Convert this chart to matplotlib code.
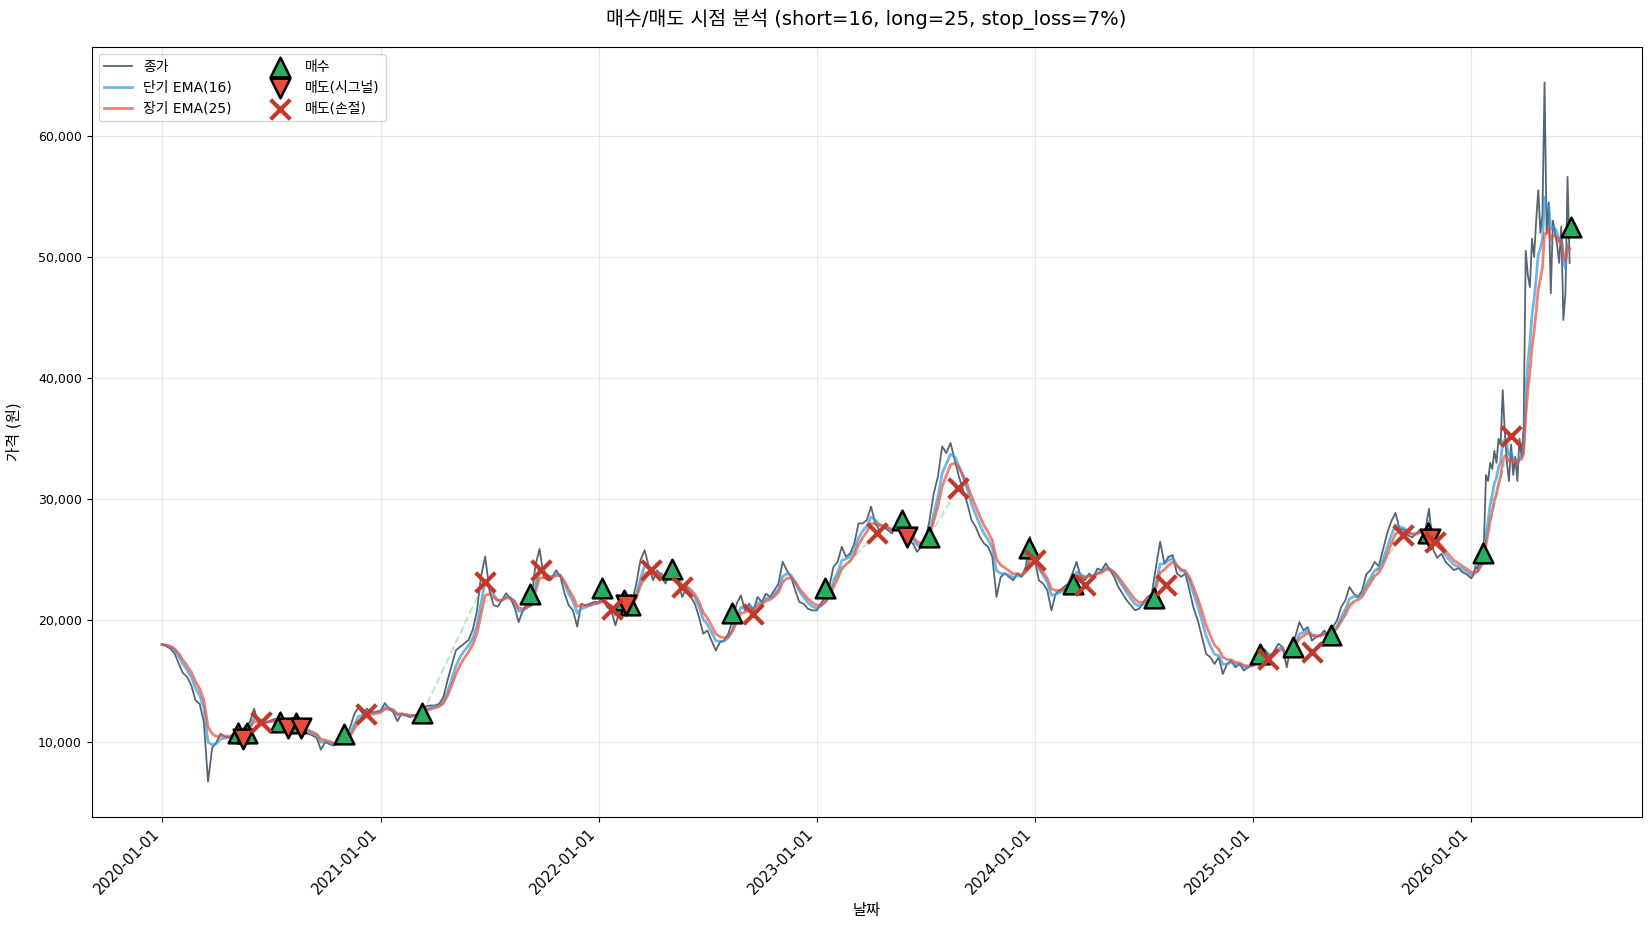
import matplotlib
matplotlib.use("Agg")
import matplotlib.pyplot as plt
import matplotlib.dates as mdates
from matplotlib.ticker import FuncFormatter
import numpy as np
import pandas as pd

plt.rcParams['font.family'] = ['DejaVu Sans', 'Noto Sans CJK KR']
plt.rcParams['axes.unicode_minus'] = False

# weekly closes, one list per year (2026 read every half week)
close_2020 = [18010, 17870, 17680, 17270, 16440, 15660, 15330, 14640, 13400, 13120,
              11600, 6700, 9480, 9945, 10640, 10410, 10360, 10580, 10770, 10910,
              11330, 11600, 12710, 11600, 11460, 11600, 11740, 11880, 11600, 11410,
              11190, 11330, 11130, 11050, 10770, 10640, 10500, 10300, 9340, 9945,
              9810, 9670, 9810, 10080, 10360, 11190, 12290, 12850, 12290, 12710,
              12430, 12430]
close_2021 = [12570, 13180, 12710, 12430, 11690, 12290, 12150, 12020, 12150, 12290,
              12710, 12930, 12980, 12980, 13120, 13670, 15060, 16300, 17540, 17820,
              18090, 18370, 19200, 20720, 23620, 25280, 22510, 21270, 21130, 21690,
              22240, 21820, 21130, 19860, 20830, 21380, 21520, 24500, 25900, 23590,
              23310, 23590, 24140, 23590, 22210, 21240, 20830, 19500, 21380, 21240,
              21380, 21520]
close_2022 = [21520, 21930, 21100, 20830, 19590, 20830, 21520, 21380, 21520, 23040,
              24970, 25800, 24420, 23310, 24140, 23590, 23040, 23870, 23310, 23040,
              21930, 22760, 21930, 21380, 20280, 18900, 19170, 18340, 17510, 18200,
              18340, 18900, 20000, 21380, 22070, 20830, 21380, 20830, 21930, 21520,
              22210, 21930, 22490, 23040, 24830, 24140, 23590, 22490, 21520, 21380,
              20970, 20830]
close_2023 = [20830, 21380, 21930, 22760, 24420, 24830, 26080, 25250, 25520, 26350,
              28010, 28010, 28290, 29390, 28010, 27460, 27730, 27460, 27180, 28010,
              27460, 27180, 26630, 26350, 25660, 26080, 26630, 28290, 30500, 31880,
              34360, 33810, 34640, 33260, 31880, 30770, 29670, 28290, 27730, 26910,
              26350, 26080, 25250, 21930, 23590, 23870, 23590, 23310, 23870, 23590,
              24420, 26910]
close_2024 = [24970, 23310, 23040, 22490, 20830, 22210, 22490, 22760, 23040, 23870,
              24830, 23590, 23310, 23870, 23590, 24280, 24140, 24700, 24140, 23590,
              22760, 22210, 21660, 21240, 20830, 20970, 21520, 21930, 22210, 24420,
              26490, 24700, 25250, 25390, 23870, 23590, 23870, 22490, 21000, 20000,
              18620, 17240, 16960, 16410, 16960, 15580, 16410, 16690, 16130, 16410,
              15860, 16130]
close_2025 = [16410, 17240, 17790, 17510, 16960, 17510, 18070, 17790, 16130, 18070,
              18620, 19860, 19170, 19450, 18340, 18620, 18760, 19170, 18620, 19450,
              20000, 21100, 21660, 22760, 22210, 21930, 22460, 23810, 24150, 24820,
              24490, 25830, 27180, 28200, 28870, 27520, 27520, 27020, 26850, 27180,
              27520, 27180, 29210, 25830, 25160, 25500, 24820, 24490, 24150, 24320,
              23980, 23810]
close_2026 = [23470, 23800, 24490, 24200, 25500, 25800, 26500, 32000, 31500, 33000,
              32500, 34000, 33000, 35000, 34500, 39000, 35500, 33000, 31500, 34500,
              32000, 33500, 31500, 35000, 33500, 36000, 50500, 48500, 47500, 51500,
              50000, 53000, 55500, 52000, 53500, 64400, 52000, 54500, 47000, 53000,
              52000, 51000, 49500, 52500, 44800, 47000, 56600, 49500]

buy_dates = ['2020-05-08', '2020-05-22', '2020-07-16', '2020-08-13', '2020-11-01',
             '2021-03-12', '2021-09-08', '2022-01-06', '2022-02-13', '2022-02-22',
             '2022-05-03', '2022-08-13', '2023-01-15', '2023-05-24', '2023-07-08',
             '2023-12-22', '2024-03-05', '2024-07-19', '2025-01-12', '2025-03-09',
             '2025-05-11', '2025-10-21', '2026-01-20', '2026-06-17']
buy_prices = [10700, 10700, 11650, 11500, 10650, 12320, 22150, 22700, 21700, 21300,
              24280, 20600, 22700, 28290, 26910, 25940, 23040, 21880, 17240, 17790,
              18760, 27180, 25560, 52500]

signal_dates = ['2020-05-15', '2020-07-30', '2020-08-20', '2022-02-16', '2023-06-01',
                '2025-10-24']
signal_prices = [10220, 11130, 11130, 21240, 26850, 26680]

stop_dates = ['2020-06-14', '2020-12-08', '2021-06-24', '2021-09-27', '2022-01-23',
              '2022-03-30', '2022-05-20', '2022-09-17', '2023-04-12', '2023-08-26',
              '2024-01-02', '2024-03-25', '2024-08-08', '2025-01-26', '2025-04-10',
              '2025-09-08', '2025-11-01', '2026-03-08']
stop_prices = [11600, 12290, 23200, 24200, 20970, 24140, 22760, 20500, 27240, 30910,
               24970, 22900, 22900, 16820, 17380, 27020, 26510, 35210]

short_span, long_span = 16, 25

yearly = [close_2020, close_2021, close_2022, close_2023, close_2024, close_2025]
dates = []
for year, vals in zip(range(2020, 2026), yearly):
    dates += list(pd.date_range(f'{year}-01-01', periods=len(vals), freq='7D'))
dates += list(pd.date_range('2026-01-01', periods=len(close_2026), freq='84h'))
dates = pd.DatetimeIndex(dates)
close = np.array(sum(yearly, []) + close_2026, dtype=float)


def ema(values, times, span):
    # daily EMA span turned into a half-life in calendar days (5 of 7 days trade)
    halflife = np.log(0.5) / np.log(1 - 2 / (span + 1)) * 7 / 5
    out = np.empty_like(values)
    out[0] = values[0]
    dt = np.diff(times.values).astype('timedelta64[h]').astype(float) / 24
    for i in range(1, len(values)):
        a = 1 - 0.5 ** (dt[i - 1] / halflife)
        out[i] = a * values[i] + (1 - a) * out[i - 1]
    return out


ema_s = ema(close, dates, short_span)
ema_l = ema(close, dates, long_span)

buy_dt = pd.to_datetime(buy_dates)
sig_dt = pd.to_datetime(signal_dates)
stop_dt = pd.to_datetime(stop_dates)

fig = plt.figure(figsize=(16.5, 9.3), dpi=100)
ax = fig.add_axes([0.0555, 0.122, 0.9394, 0.827])

ax.plot(dates, close, color='#2c3e50', alpha=0.8, lw=1.3, label='종가')
ax.plot(dates, ema_s, color='#3498db', alpha=0.7, lw=2, label=f'단기 EMA({short_span})')
ax.plot(dates, ema_l, color='#e74c3c', alpha=0.7, lw=2, label=f'장기 EMA({long_span})')

# dashed link for winning trades
sells = sorted(list(zip(sig_dt, signal_prices)) + list(zip(stop_dt, stop_prices)))
for bd, bp in zip(buy_dt, buy_prices):
    nxt = [s for s in sells if s[0] > bd]
    if nxt and nxt[0][1] > bp:
        ax.plot([bd, nxt[0][0]], [bp, nxt[0][1]], ls='--', color='#27ae60',
                alpha=0.3, lw=1.5)

ax.scatter(buy_dt, buy_prices, marker='^', s=200, color='#27ae60',
           edgecolors='black', linewidths=1.8, zorder=5, label='매수')
ax.scatter(sig_dt, signal_prices, marker='v', s=200, color='#e74c3c',
           edgecolors='black', linewidths=1.8, zorder=5, label='매도(시그널)')
ax.scatter(stop_dt, stop_prices, marker='x', s=200, color='#c0392b',
           linewidths=3, zorder=5, label='매도(손절)')

ax.set_title(f'매수/매도 시점 분석 (short={short_span}, long={long_span}, stop_loss=7%)',
             fontsize=14, pad=16)
ax.set_xlabel('날짜', fontsize=11)
ax.set_ylabel('가격 (원)', fontsize=11, labelpad=12)
ax.grid(True, alpha=0.3)
ax.legend(loc='upper left', ncol=2, fontsize=10, columnspacing=2.5)

ax.xaxis.set_major_locator(mdates.YearLocator())
ax.xaxis.set_major_formatter(mdates.DateFormatter('%Y-%m-%d'))
ax.yaxis.set_major_formatter(FuncFormatter(lambda v, p: f'{v:,.0f}'))
ax.tick_params(axis='y', labelsize=9)
ax.tick_params(axis='x', labelsize=10.5)
plt.setp(ax.get_xticklabels(), rotation=45, ha='right')

fig.savefig('out.png', dpi=100)
